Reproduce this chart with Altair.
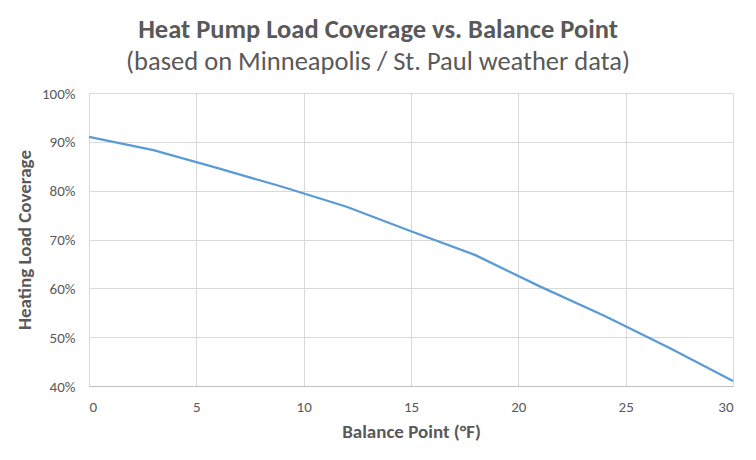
import altair as alt
import pandas as pd

balance_point = [0, 3, 6, 9, 12, 15, 18, 21, 24, 27, 30]
coverage = [0.910, 0.883, 0.846, 0.808, 0.767, 0.717, 0.668, 0.604, 0.544, 0.479, 0.410]

df = pd.DataFrame({"bp": balance_point, "cov": coverage})

FONT = "Carlito, Calibri, Lato, sans-serif"
TXT = "#595959"

chart = alt.Chart(df).mark_line(color="#5b9bd5", strokeWidth=2.25).encode(
    x=alt.X("bp:Q", title="Balance Point (°F)",
            scale=alt.Scale(domain=[0, 30], nice=False, zero=False),
            axis=alt.Axis(values=[0, 5, 10, 15, 20, 25, 30], format="d",
                          grid=True, gridColor="#d9d9d9", ticks=False, tickSize=0,
                          domainColor="#bfbfbf", labelPadding=13,
                          labelFont=FONT, labelFontSize=15, labelColor=TXT,
                          titleFont=FONT, titleFontSize=19, titleFontWeight="bold",
                          titleColor=TXT, titlePadding=8)),
    y=alt.Y("cov:Q", title="Heating Load Coverage",
            scale=alt.Scale(domain=[0.4, 1.0], nice=False, zero=False),
            axis=alt.Axis(values=[0.4, 0.5, 0.6, 0.7, 0.8, 0.9, 1.0], format=".0%",
                          grid=True, gridColor="#d9d9d9", ticks=False, tickSize=0,
                          domain=False, labelPadding=14,
                          labelFont=FONT, labelFontSize=15, labelColor=TXT,
                          titleFont=FONT, titleFontSize=19, titleFontWeight="bold",
                          titleColor=TXT, titlePadding=7)),
).properties(
    width=644,
    height=293,
    autosize=alt.AutoSizeParams(type="none"),
    padding={"left": 81, "top": 85, "right": 15, "bottom": 66},
    title=alt.TitleParams(
        text="Heat Pump Load Coverage vs. Balance Point",
        subtitle="(based on Minneapolis / St. Paul weather data)",
        font=FONT, fontSize=26.5, fontWeight="bold", color=TXT,
        subtitleFont=FONT, subtitleFontSize=26.5, subtitleColor=TXT,
        subtitlePadding=5, anchor="middle", dx=-33, offset=11,
    ),
).configure_view(stroke=None).configure(background="white")

chart.save("out.html", embed_options={"renderer": "svg", "actions": False})
